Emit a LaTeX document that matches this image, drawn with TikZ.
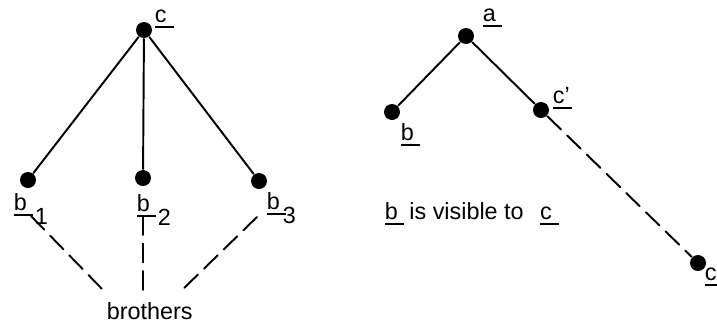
\documentclass[tikz,border=0pt]{standalone}
\usepackage{fontspec}
\setmainfont{Liberation Sans}
\newcommand\ul[1]{\rlap{\rule[-0.12cm]{0.38cm}{0.04cm}}#1}
\begin{document}
\begin{tikzpicture}[x=0.02cm,y=-0.02cm,line join=round,line cap=round,
	font=\fontsize{13.3}{16}\selectfont,line width=1.1pt,
	dot/.style={circle,fill,inner sep=0pt,minimum size=0.32cm},
	lbl/.style={anchor=base west,inner sep=0pt},
	brother/.style={dash pattern=on 0.38cm off 0.17cm}]
	\useasboundingbox (0,0) rectangle (717,329);
	% left tree
	\path
	(144,30) node[dot] (C) {}
	(28,180) node[dot] (B1) {}
	(143,178) node[dot] (B2) {}
	(259,181) node[dot] (B3) {}
	;
	\draw
	(C)--(B1) (C)--(B2) (C)--(B3)
	;
	\node[lbl] (lC) at (154,22) {\ul{c}};
	\foreach \n/\x/\y/\k in {1/13/210/0.16cm,2/136/211/0.16cm,3/266/209/0.06cm}
	\node[lbl] (lB\n) at (\x,\y) {\ul{b}\kern\k\raisebox{-0.28cm}{\n}};
	\node[lbl] (bro) at (106,319) {brothers};
	\path
	(31,216) coordinate (s1) (105,292) coordinate (e1)
	(143,216) coordinate (s2) (143,292) coordinate (e2)
	(257,217) coordinate (s3) (180,292) coordinate (e3)
	;
	\foreach \n in {1,2,3}
	\draw[brother] (s\n)--(e\n);
	% right tree
	\path
	(466,36) node[dot] (A) {}
	(392,112) node[dot] (B) {}
	(541,110) node[dot] (Cp) {}
	(698,263) node[dot] (Cv) {}
	;
	\draw
	(A)--(B) (A)--(Cp)
	;
	\draw[brother]
	(Cp)--(Cv)
	;
	\foreach \x/\p/\q/\t in {A/482/21/a,Cp/552/103/c’,B/400/140/b,Cv/704/280/c}
	\node[lbl] (l\x) at (\p,\q) {\ul{\t}};
	\node[lbl] (vis) at (384,219) {\ul{b}\hspace{0.23cm}is visible to\hspace{0.33cm}\ul{c}};
\end{tikzpicture}
\end{document}
